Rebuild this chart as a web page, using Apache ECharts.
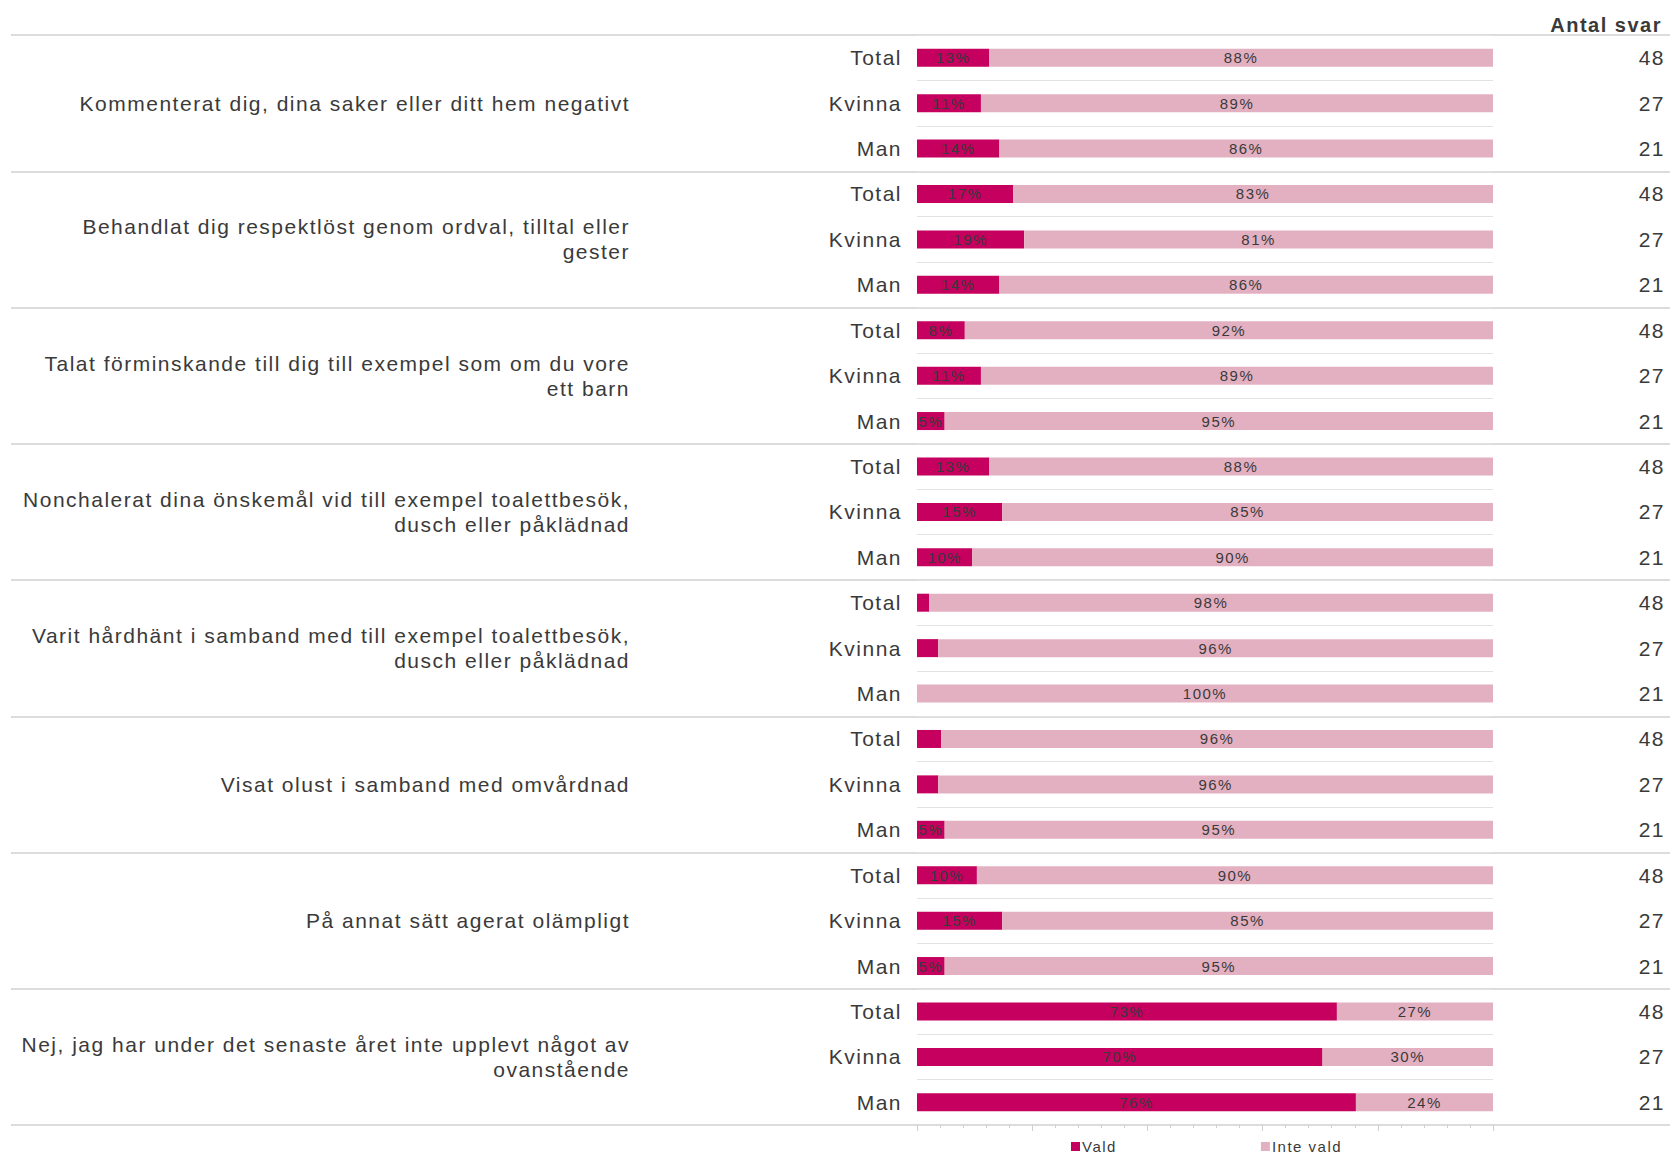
<!DOCTYPE html>
<html>
<head>
<meta charset="utf-8">
<script src="https://cdn.jsdelivr.net/npm/echarts@6/dist/echarts.min.js"></script>
<style>
  html, body { margin: 0; padding: 0; background: #fff; }
  #chart { width: 1670px; height: 1154px; letter-spacing: 1.5px; }
</style>
</head>
<body>
<div id="chart"></div>
<script>
// frågor (grupper)
const groups = [
  'Kommenterat dig, dina saker eller ditt hem negativt',
  'Behandlat dig respektlöst genom ordval, tilltal eller\ngester',
  'Talat förminskande till dig till exempel som om du vore\nett barn',
  'Nonchalerat dina önskemål vid till exempel toalettbesök,\ndusch eller påklädnad',
  'Varit hårdhänt i samband med till exempel toalettbesök,\ndusch eller påklädnad',
  'Visat olust i samband med omvårdnad',
  'På annat sätt agerat olämpligt',
  'Nej, jag har under det senaste året inte upplevt något av\novanstående'
]
const subgroups = ['Total', 'Kvinna', 'Man']
const counts = [48, 27, 21]

// andel (%) per rad: Total, Kvinna, Man för varje grupp
const vald = [
  12.5, 11.1, 14.3,
  16.7, 18.6, 14.3,
  8.3, 11.1, 4.8,
  12.5, 14.8, 9.6,
  2.1, 3.7, 0,
  4.2, 3.7, 4.8,
  10.4, 14.8, 4.8,
  72.9, 70.4, 76.2
]
const inteVald = [
  87.5, 88.9, 85.7,
  83.3, 81.4, 85.7,
  91.7, 88.9, 95.2,
  87.5, 85.2, 90.4,
  97.9, 96.3, 100,
  95.8, 96.3, 95.2,
  89.6, 85.2, 95.2,
  27.1, 29.6, 23.8
]

const textColor = '#3a3a3a'
const fontFamily = '"Liberation Sans", Arial, sans-serif'

// en rad per grupp x undergrupp, unika nycklar
const rows = []
groups.forEach((g, gi) => {
  subgroups.forEach((s) => rows.push(gi + '|' + s))
})

const chart = echarts.init(document.getElementById('chart'), null, { renderer: 'svg' })

function barLabel() {
  return {
    show: true,
    position: 'inside',
    color: textColor,
    fontSize: 15,
    fontFamily,
    formatter: (p) => (p.value >= 4.5 ? Math.round(p.value) + '%' : '')
  }
}

const option = {
  animation: false,
  textStyle: { fontFamily },
  title: {
    text: 'Antal svar',
    right: 18,
    top: 10,
    textStyle: { fontSize: 20, fontWeight: 'bold', color: textColor, fontFamily }
  },
  legend: {
    data: ['Vald', 'Inte vald'],
    left: 1066,
    top: 1134,
    icon: 'rect',
    itemWidth: 9,
    itemHeight: 9,
    itemGap: 150,
    textStyle: { fontSize: 15, color: textColor, padding: [0, 0, 0, -3] }
  },
  grid: [
    // hela bredden: gruppetiketter och grupplinjer
    { left: 11, right: 0, top: 35, bottom: 29 },
    // staplarna
    { left: 917, right: 177, top: 35, bottom: 29 }
  ],
  xAxis: [
    { gridIndex: 0, type: 'value', min: 0, max: 1, show: false },
    {
      gridIndex: 1,
      type: 'value',
      min: 0,
      max: 100,
      interval: 20,
      axisLine: { show: true, lineStyle: { color: '#dcdcdc', width: 2 } },
      axisTick: { show: true, length: 6, lineStyle: { color: '#cfcfcf' } },
      minorTick: { show: true, splitNumber: 5, length: 3, lineStyle: { color: '#cfcfcf' } },
      axisLabel: { show: false },
      splitLine: { show: false }
    }
  ],
  yAxis: [
    {
      gridIndex: 0,
      type: 'category',
      inverse: true,
      data: groups,
      axisLine: { show: false },
      axisTick: { show: false },
      splitLine: { show: true, lineStyle: { color: '#dcdcdc', width: 2 } },
      axisLabel: {
        inside: true,
        align: 'right',
        margin: 619,
        fontSize: 21,
        lineHeight: 25,
        color: textColor
      }
    },
    {
      gridIndex: 1,
      type: 'category',
      inverse: true,
      data: rows,
      axisLine: { show: false },
      axisTick: { show: false },
      splitLine: { show: true, lineStyle: { color: '#e2e2e2', width: 1 } },
      axisLabel: {
        margin: 15,
        fontSize: 21,
        color: textColor,
        formatter: (v) => v.split('|')[1]
      }
    },
    {
      gridIndex: 1,
      type: 'category',
      inverse: true,
      position: 'right',
      data: rows,
      axisLine: { show: false },
      axisTick: { show: false },
      splitLine: { show: false },
      axisLabel: {
        margin: 172,
        align: 'right',
        fontSize: 21,
        color: textColor,
        formatter: (v, i) => String(counts[i % counts.length])
      }
    }
  ],
  series: [
    {
      name: 'Vald',
      type: 'bar',
      stack: 'andel',
      xAxisIndex: 1,
      yAxisIndex: 1,
      barWidth: 18,
      itemStyle: { color: '#c5005e' },
      label: barLabel(),
      data: vald
    },
    {
      name: 'Inte vald',
      type: 'bar',
      stack: 'andel',
      xAxisIndex: 1,
      yAxisIndex: 1,
      barWidth: 18,
      itemStyle: { color: '#e3b0c1' },
      label: barLabel(),
      data: inteVald
    }
  ]
}

chart.setOption(option)
</script>
</body>
</html>
